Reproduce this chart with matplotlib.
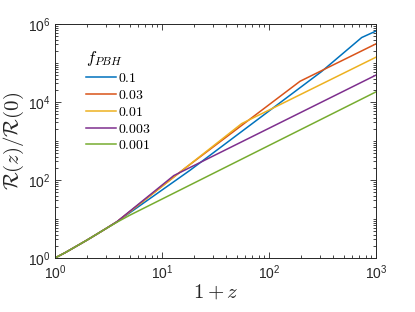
import numpy as np
import matplotlib
matplotlib.use("Agg")
import matplotlib.pyplot as plt
from matplotlib.ticker import FixedLocator, FuncFormatter, NullFormatter

plt.rcParams['font.family'] = ['Liberation Sans', 'DejaVu Sans']
plt.rcParams['mathtext.fontset'] = 'custom'
plt.rcParams['mathtext.rm'] = 'Liberation Sans'
plt.rcParams['mathtext.it'] = 'Liberation Sans:italic'

# values (1+z, R(z)/R(0))
x_01 = [1, 1.25, 1.5, 2, 2.5, 3, 3.8, 18.3, 309, 735, 1000]
y_01 = [1, 1.38, 1.84, 2.9, 4.2, 5.7, 8.5, 178, 6.0e4, 4.5e5, 6.6e5]

x_003 = [1, 1.25, 1.5, 2, 2.5, 3, 3.8, 16.4, 195, 1000]
y_003 = [1, 1.38, 1.84, 2.9, 4.2, 5.7, 8.5, 200, 3.4e4, 3.1e5]

x_001 = [1, 1.25, 1.5, 2, 2.5, 3, 3.8, 55.6, 1000]
y_001 = [1, 1.38, 1.84, 2.9, 4.2, 5.7, 8.5, 2800, 1.41e5]

x_0003 = [1, 1.25, 1.5, 2, 2.5, 3, 3.8, 12.9, 1000]
y_0003 = [1, 1.38, 1.84, 2.9, 4.2, 5.7, 8.6, 130, 4.9e4]

x_0001 = [1, 1.25, 1.5, 2, 2.5, 3, 3.8, 5, 1000]
y_0001 = [1, 1.38, 1.84, 2.9, 4.2, 5.7, 8.3, 12.5, 1.82e4]

labels = ['0.1', '0.03', '0.01', '0.003', '0.001']
colors = ['#0072BD', '#D95319', '#EDB120', '#7E2F8E', '#77AC30']
series = [(x_01, y_01), (x_003, y_003), (x_001, y_001), (x_0003, y_0003), (x_0001, y_0001)]

fig = plt.figure(figsize=(4.15, 3.12), dpi=100)
ax = fig.add_axes([55/415, 1-258/312, (376-55)/415, (258-24)/312])

for (xs, ys), lab, c in zip(series, labels, colors):
    ax.plot(xs, ys, color=c, lw=1.1, label='$%s$' % lab)

ax.set_xscale('log')
ax.set_yscale('log')
ax.set_xlim(1, 1000)
ax.set_ylim(1, 1e6)

dark = '#262626'
ax.xaxis.set_major_locator(FixedLocator([1, 10, 100, 1000]))
ax.xaxis.set_minor_locator(FixedLocator([j*10**k for k in range(3) for j in range(2, 10)]))
ax.yaxis.set_major_locator(FixedLocator([1, 1e2, 1e4, 1e6]))
ax.yaxis.set_minor_locator(FixedLocator([j*10**k for k in range(6) for j in range(1, 10)
                                         if not (j == 1 and k % 2 == 0)]))
fmt = FuncFormatter(lambda v, p: '$10^{%d}$' % int(round(np.log10(v))))
ax.xaxis.set_major_formatter(fmt)
ax.yaxis.set_major_formatter(fmt)
ax.xaxis.set_minor_formatter(NullFormatter())
ax.yaxis.set_minor_formatter(NullFormatter())

ax.tick_params(which='both', direction='in', top=True, right=True, colors=dark,
               labelsize=10, width=0.6)
ax.tick_params(which='major', length=4)
ax.tick_params(which='minor', length=2.2)
ax.tick_params(axis='x', pad=4)
for s in ax.spines.values():
    s.set_color(dark)
    s.set_linewidth(0.7)

xl = ax.set_xlabel('$1+z$', fontsize=15, color=dark, labelpad=0)
yl = ax.set_ylabel(r'$\mathcal{R}(z)/\mathcal{R}(0)$', fontsize=15, color=dark, labelpad=1)
xl.set_math_fontfamily('cm')
yl.set_math_fontfamily('cm')

leg = ax.legend(loc='upper left', bbox_to_anchor=(0.079, 0.915), frameon=False,
                fontsize=10, handlelength=2.2, handletextpad=0.1, labelspacing=0.2,
                title='$f_{PBH}$', title_fontsize=12, alignment='left', borderaxespad=0)
for t in leg.get_texts():
    t.set_math_fontfamily('cm')
leg.get_title().set_math_fontfamily('cm')

fig.savefig('out.png', dpi=100)
